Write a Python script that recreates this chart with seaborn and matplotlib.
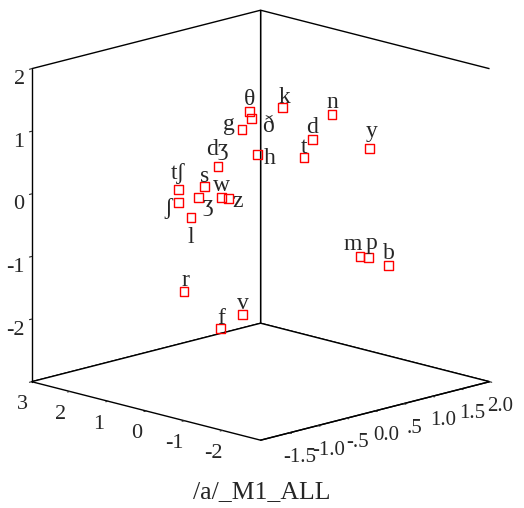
import matplotlib
matplotlib.use("Agg")
import matplotlib.pyplot as plt
import seaborn as sns
from mpl_toolkits.mplot3d import proj3d

sns.set_style("white")
plt.rcParams["font.family"] = ["Liberation Serif", "DejaVu Serif"]

# Phoneme coordinates in the three-dimensional solution
phonemes = ["θ", "ð", "g", "h", "dʒ", "tʃ", "s", "ʃ", "ʒ", "w", "z", "l",
            "r", "v", "f", "k", "n", "d", "t", "y", "m", "p", "b"]
dim1 = [0.14, 0.12, 0.25, 0.04, 0.56, 1.08, 0.74, 1.08, 0.82, 0.51, 0.43, 0.91,
        1.00, 0.23, 0.52, -0.29, -0.94, -0.68, -0.57, -1.43, -1.30, -1.42, -1.67]
dim2 = [-0.10, -0.08, -0.16, -0.03, -0.37, -0.72, -0.49, -0.72, -0.54, -0.34, -0.28, -0.61,
        -0.67, -0.16, -0.35, 0.19, 0.62, 0.45, 0.38, 0.95, 0.87, 0.94, 1.12]
dim3 = [1.32, 1.21, 1.03, 0.63, 0.44, 0.07, 0.12, -0.14, -0.06, -0.06, -0.07, -0.38,
        -1.56, -1.93, -2.15, 1.38, 1.27, 0.87, 0.58, 0.73, -1.00, -1.02, -1.14]

# Label placement offsets (pixels) around each marker
label_dx = [0, 17, -13, 12, -1, 0, 0, -10, 9, 0, 9, 0, 1, 0, 0, 2, 0, 0, 0, 2, -7, 3, 0]
label_dy = [6, -14, -1, -9, 11, 11, 4, -11, -13, 7, -9, -25, 6, 6, 5, 5, 6, 6, 5, 11, 6, 9, 6]

dim1_ticks = [3, 2, 1, 0, -1, -2]
dim1_labels = ["3", "2", "1", "0", "-1", "-2"]
dim2_ticks = [-1.5, -1.0, -0.5, 0.0, 0.5, 1.0, 1.5, 2.0]
dim2_labels = ["-1.5", "-1.0", "-.5", "0.0", ".5", "1.0", "1.5", "2.0"]
dim3_ticks = [-2, -1, 0, 1, 2]
dim3_labels = ["-2", "-1", "0", "1", "2"]

D1_LIM = (-3.0, 3.0)
D2_LIM = (-2.0, 2.0)
D3_LIM = (-3.0, 2.0)

fig = plt.figure(figsize=(5.24, 5.08), dpi=100)
ax = fig.add_axes([-0.015, 0.074, 1.0, 0.94], projection="3d")
ax.set_proj_type("ortho")
ax.view_init(elev=14.8, azim=-135)
ax.set_box_aspect((1, 1, 1), zoom=1.14)

ax.set_xlim(*D2_LIM)
ax.set_ylim(*D1_LIM)
ax.set_zlim(*D3_LIM)

ax.scatter(dim2, dim1, dim3, marker="s", s=40, facecolors="none",
           edgecolors="red", linewidths=1.0, depthshade=False)

for axis in (ax.xaxis, ax.yaxis, ax.zaxis):
    axis.pane.set_facecolor("white")
    axis.pane.set_alpha(1.0)
    axis.pane.set_edgecolor("black")
    axis.pane.set_linewidth(1.0)
    axis.line.set_color("black")
    axis.line.set_linewidth(1.0)
    axis._axinfo["tick"]["inward_factor"] = 0.12
    axis._axinfo["tick"]["outward_factor"] = 0.0
ax.grid(False)

ax.set_xticks(dim2_ticks)
ax.set_yticks(dim1_ticks)
ax.set_zticks(dim3_ticks)
ax.set_xticklabels([])
ax.set_yticklabels([])
ax.set_zticklabels([])

fig.canvas.draw()
M = ax.get_proj()


def to2d(d1, d2, d3):
    x2, y2, _ = proj3d.proj_transform(d2, d1, d3, M)
    return x2, y2


# Tick labels along the three box edges
for v, s in zip(dim1_ticks, dim1_labels):
    ax.annotate(s, to2d(v, D2_LIM[0], D3_LIM[0]), xytext=(-9.5, -27.5),
                textcoords="offset pixels", ha="center", va="baseline", fontsize=16)
for v, s in zip(dim2_ticks, dim2_labels):
    ax.annotate(s, to2d(D1_LIM[0], v, D3_LIM[0]), xytext=(11, -29),
                textcoords="offset pixels", ha="center", va="baseline", fontsize=15)
for v, s in zip(dim3_ticks, dim3_labels):
    ax.annotate(s, to2d(D1_LIM[1], D2_LIM[0], v), xytext=(-7, -15.5),
                textcoords="offset pixels", ha="right", va="baseline", fontsize=16)

# Phoneme labels
for name, p, q, z, dx, dy in zip(phonemes, dim1, dim2, dim3, label_dx, label_dy):
    ax.annotate(name, to2d(p, q, z), xytext=(dx, dy), textcoords="offset pixels",
                ha="center", va="baseline", fontsize=17)

fig.text(0.5, 0.02, "/a/_M1_ALL", ha="center", va="baseline", fontsize=18.5)

fig.savefig("out.png", dpi=100)
